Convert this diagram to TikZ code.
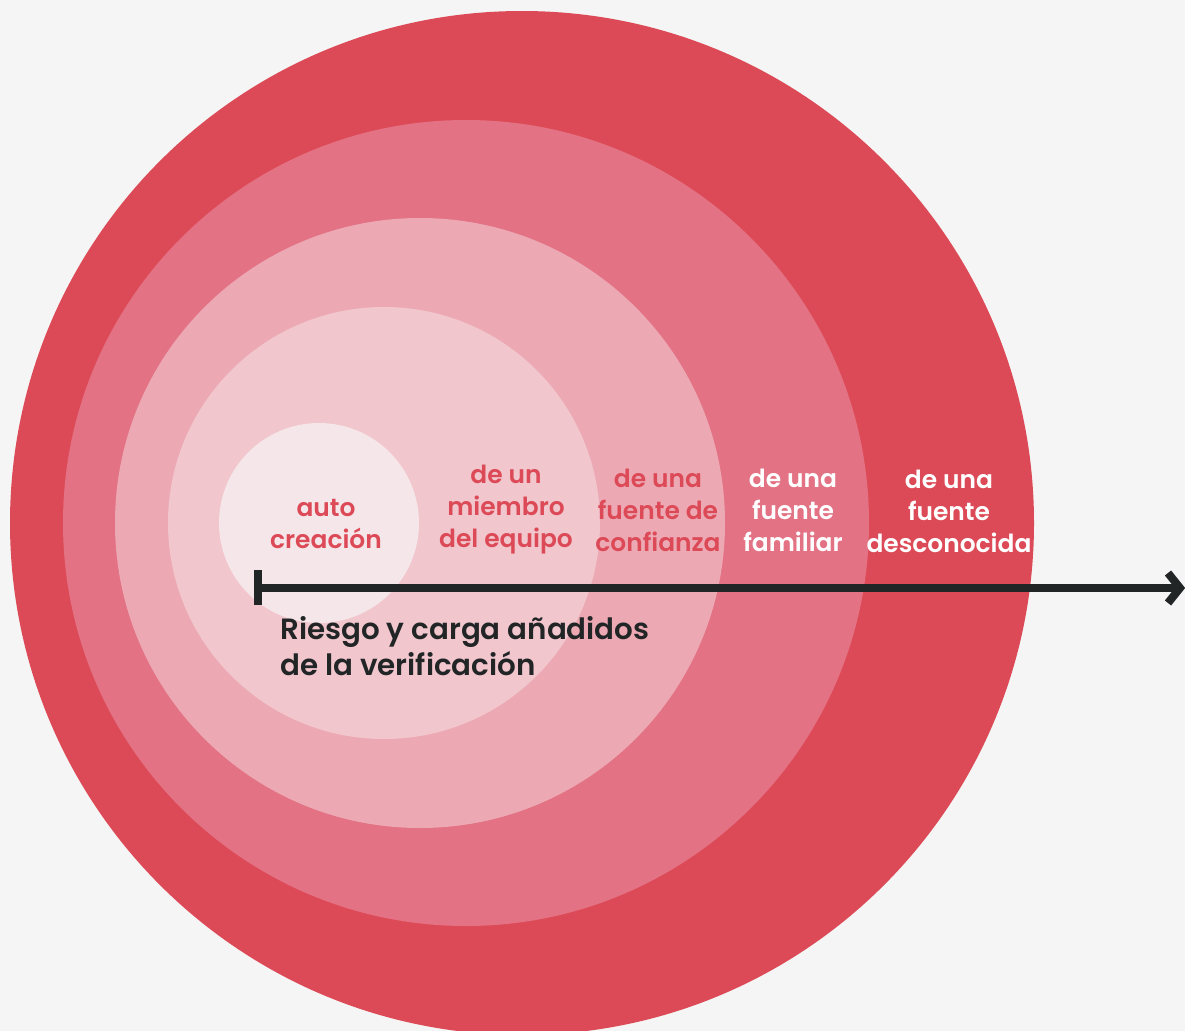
\documentclass[tikz,border=0pt]{standalone}
\usepackage{fontspec}
\setmainfont{Poppins}[BoldFont={* SemiBold}]
\definecolor{bg}{HTML}{F4F5F4}
\definecolor{c1}{HTML}{DD4A57}
\definecolor{c2}{HTML}{E37284}
\definecolor{c3}{HTML}{ECA9B4}
\definecolor{c4}{HTML}{F1C6CD}
\definecolor{c5}{HTML}{F5E6E9}
\definecolor{ink}{HTML}{222526}
\tikzset{
  ring/.style={fill=#1, draw=none},
  lbl/.style={align=center, font=\bfseries\fontsize{18.7pt}{24pt}\selectfont, inner sep=0pt},
  bar/.style={draw=ink, line width=6pt},
}
\begin{document}
\begin{tikzpicture}[x=0.75pt,y=-0.75pt]
\useasboundingbox (0,0) rectangle (1185,1031);
\fill[bg] (0,0) rectangle (1185,1031);
\begin{scope}
\clip (0,0) rectangle (1185,1031);
\fill[ring=c1] (522,523) circle[radius=512];
\fill[ring=c2] (466,523) circle[radius=403];
\fill[ring=c3] (420,523) circle[radius=305];
\fill[ring=c4] (384,523) circle[radius=216];
\fill[ring=c5] (319,523) circle[radius=100];
\end{scope}
\node[lbl, text=c1] (l1) at (326,524) {auto\\creación};
\node[lbl, text=c1] (l2) at (506,510) {de un\\miembro\\del equipo};
\node[lbl, text=c1] (l3) at (658,510) {de una\\fuente de\\confianza};
\node[lbl, text=white] (l4) at (793,510) {de una\\fuente\\familiar};
\node[lbl, text=white] (l5) at (949,511) {de una\\fuente\\desconocida};
\coordinate (s) at (258,588);
\coordinate (e) at (1180,588);
\coordinate (st) at (258,570);
\coordinate (sb) at (258,605);
\coordinate (ht) at (1168,573);
\coordinate (hb) at (1168,603);
\draw[bar] (s) -- (e);
\draw[bar, line cap=butt] (st) -- (sb);
\draw[bar, miter limit=10] (ht) -- (e) -- (hb);
\node[anchor=north west, align=left, inner sep=0pt, text=ink,
  font=\bfseries\fontsize{22pt}{27pt}\selectfont] (cap) at (280,616)
  {Riesgo y carga añadidos\\de la verificación};
\end{tikzpicture}
\end{document}
